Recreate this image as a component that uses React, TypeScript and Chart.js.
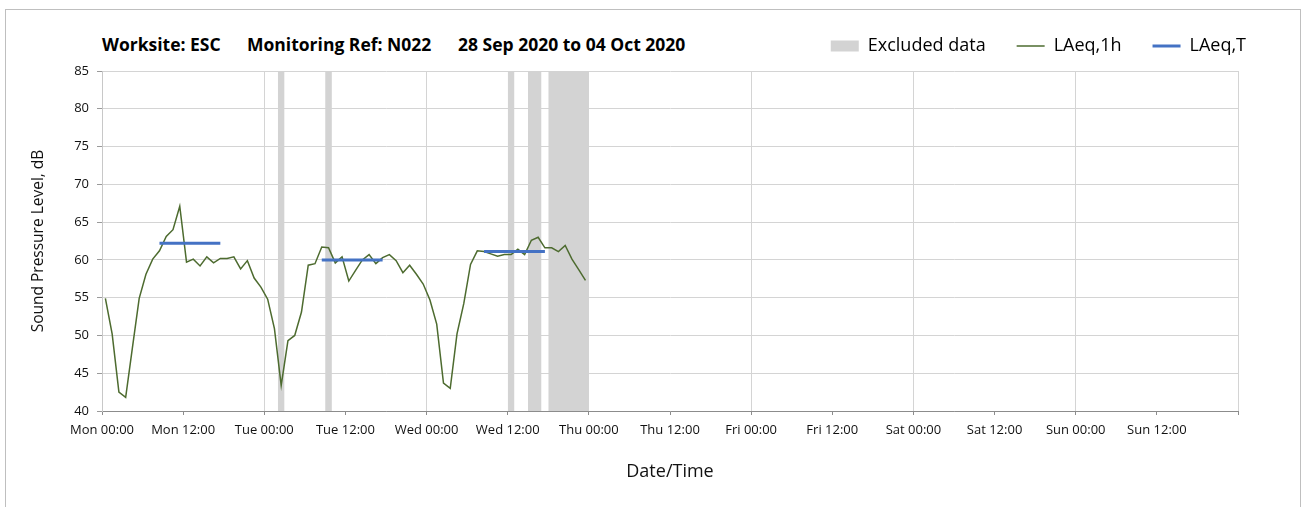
import React, { useEffect, useRef } from 'react';
import { Chart, registerables } from 'chart.js';

Chart.register(...registerables);

const FONT = '"Open Sans", "Noto Sans", sans-serif';

// x axis: hours since Monday 00:00
const tickHours = [0, 12, 24, 36, 48, 60, 72, 84, 96, 108, 120, 132, 144, 156];
const tickLabels = [
  'Mon 00:00', 'Mon 12:00', 'Tue 00:00', 'Tue 12:00', 'Wed 00:00', 'Wed 12:00', 'Thu 00:00',
  'Thu 12:00', 'Fri 00:00', 'Fri 12:00', 'Sat 00:00', 'Sat 12:00', 'Sun 00:00', 'Sun 12:00',
];

// hourly LAeq,1h (plotted at the middle of each hour)
const hourMarks = [
  0.5, 1.5, 2.5, 3.5, 4.5, 5.5, 6.5, 7.5, 8.5, 9.5, 10.5, 11.5,
  12.5, 13.5, 14.5, 15.5, 16.5, 17.5, 18.5, 19.5, 20.5, 21.5, 22.5, 23.5,
  24.5, 25.5, 26.5, 27.5, 28.5, 29.5, 30.5, 31.5, 32.5, 33.5, 34.5, 35.5,
  36.5, 37.5, 38.5, 39.5, 40.5, 41.5, 42.5, 43.5, 44.5, 45.5, 46.5, 47.5,
  48.5, 49.5, 50.5, 51.5, 52.5, 53.5, 54.5, 55.5, 56.5, 57.5, 58.5, 59.5,
  60.5, 61.5, 62.5, 63.5, 64.5, 65.5, 66.5, 67.5, 68.5, 69.5, 70.5, 71.5,
];
const hourlyLevels = [
  54.9, 50.2, 42.5, 41.8, 48.4, 54.9, 58.1, 60.1, 61.2, 63.1, 64.0, 67.1,
  59.7, 60.1, 59.2, 60.4, 59.6, 60.2, 60.2, 60.4, 58.8, 59.9, 57.6, 56.4,
  54.8, 50.9, 43.4, 49.3, 50.0, 53.1, 59.3, 59.5, 61.7, 61.6, 59.6, 60.4,
  57.2, 58.6, 60.0, 60.7, 59.5, 60.3, 60.7, 59.9, 58.3, 59.3, 58.1, 56.8,
  54.7, 51.5, 43.7, 43.0, 50.2, 54.2, 59.4, 61.2, 61.1, 60.8, 60.5, 60.7,
  60.7, 61.4, 60.7, 62.6, 63.0, 61.6, 61.6, 61.1, 61.9, 60.1, 58.7, 57.3,
];

// LAeq,T periods
const periodStart = [8.5, 32.5, 56.5];
const periodEnd = [17.5, 41.5, 65.5];
const periodLevel = [62.2, 60.0, 61.1];

// excluded data windows
const excludedStart = [26, 33, 60, 63, 66];
const excludedEnd = [27, 34, 61, 65, 72];

const Y_MIN = 40;
const Y_MAX = 85;

const legendShift = {
  id: 'legendShift',
  afterLayout(chart: any) {
    const l = chart.legend;
    if (l) {
      l.top -= 6;
      l.bottom -= 6;
    }
  },
};

export default function App() {
  const canvasRef = useRef<HTMLCanvasElement | null>(null);

  useEffect(() => {
    document.body.style.margin = '0';
    const canvas = canvasRef.current;
    if (!canvas) return;

    const excludedData: any[] = [];
    excludedStart.forEach((s, i) => {
      excludedData.push({ x: s, y: Y_MAX });
      excludedData.push({ x: excludedEnd[i], y: Y_MAX });
      excludedData.push({ x: excludedEnd[i], y: null });
    });
    const levelData = hourMarks.map((h, i) => ({ x: h, y: hourlyLevels[i] }));
    const periodData: any[] = [];
    periodStart.forEach((s, i) => {
      periodData.push({ x: s, y: periodLevel[i] });
      periodData.push({ x: periodEnd[i], y: periodLevel[i] });
      periodData.push({ x: periodEnd[i], y: null });
    });

    const GREEN = '#4D6B2F';
    const BLUE = '#4472C4';
    const GREY = '#d3d3d3';

    const legendStyles = [
      { fillStyle: GREY, strokeStyle: GREY, lineWidth: 0, pointStyle: 'rect' },
      { fillStyle: GREEN, strokeStyle: GREEN, lineWidth: 1.5, pointStyle: 'line' },
      { fillStyle: BLUE, strokeStyle: BLUE, lineWidth: 3, pointStyle: 'line' },
    ];

    const chart = new Chart(canvas, {
      type: 'line',
      data: {
        datasets: [
          {
            label: 'Excluded data',
            data: excludedData,
            borderColor: 'rgba(0,0,0,0)',
            borderWidth: 0,
            backgroundColor: GREY,
            fill: 'start',
            pointRadius: 0,
            pointHoverRadius: 0,
            spanGaps: false,
            order: 3,
          },
          {
            label: 'LAeq,1h',
            data: levelData,
            borderColor: GREEN,
            borderWidth: 1.5,
            pointRadius: 0,
            pointHoverRadius: 0,
            tension: 0,
            fill: false,
            order: 2,
          },
          {
            label: 'LAeq,T',
            data: periodData,
            borderColor: BLUE,
            borderWidth: 3,
            pointRadius: 0,
            pointHoverRadius: 0,
            spanGaps: false,
            fill: false,
            order: 1,
          },
        ],
      },
      plugins: [legendShift],
      options: {
        animation: false,
        responsive: false,
        maintainAspectRatio: false,
        layout: { padding: { top: 0, left: 0, right: 27, bottom: 0 } },
        plugins: {
          tooltip: { enabled: false },
          title: { display: false },
          legend: {
            display: true,
            position: 'top',
            align: 'end',
            labels: {
              usePointStyle: true,
              pointStyleWidth: 28,
              boxHeight: 11,
              padding: 31,
              color: '#000',
              font: { family: FONT, size: 18 },
              generateLabels: (c: any) =>
                c.data.datasets.map((ds: any, i: number) => ({
                  text: ds.label,
                  datasetIndex: i,
                  hidden: false,
                  fontColor: '#000',
                  ...legendStyles[i],
                })),
            },
          },
        },
        scales: {
          x: {
            type: 'linear',
            min: 0,
            max: 168,
            afterFit: (scale: any) => {
              scale.height = 96;
              scale.paddingRight = 66;
            },
            ticks: {
              stepSize: 12,
              autoSkip: false,
              maxRotation: 0,
              padding: 7,
              color: '#111',
              font: { family: FONT, size: 13 },
              callback: (v: any) => {
                const idx = tickHours.indexOf(Number(v));
                return idx >= 0 ? tickLabels[idx] : '';
              },
            },
            grid: {
              color: (ctx: any) =>
                ctx.tick && ctx.tick.value % 24 === 0 ? '#d4d4d4' : 'rgba(0,0,0,0)',
              lineWidth: 1,
              tickColor: '#8c8c8c',
              tickLength: 4,
            },
            border: { color: '#8c8c8c', width: 1 },
            title: {
              display: true,
              text: 'Date/Time',
              color: '#111',
              font: { family: FONT, size: 18 },
              padding: { top: 4, bottom: 24 },
            },
          },
          y: {
            type: 'linear',
            min: Y_MIN,
            max: Y_MAX,
            afterFit: (scale: any) => {
              scale.width = 102;
              scale.paddingTop = 71;
            },
            ticks: {
              stepSize: 5,
              padding: 8,
              color: '#111',
              font: { family: FONT, size: 13 },
            },
            grid: {
              color: '#d4d4d4',
              lineWidth: 1,
              tickColor: '#9a9a9a',
              tickLength: 5,
            },
            border: { color: '#c8c8c8', width: 1 },
            title: {
              display: true,
              text: 'Sound Pressure Level, dB',
              color: '#111',
              font: { family: FONT, size: 15.5 },
              padding: { top: 29, bottom: 4 },
            },
          },
        },
      },
    });

    return () => chart.destroy();
  }, []);

  const titleStyle: React.CSSProperties = {
    position: 'absolute',
    top: 33,
    fontFamily: FONT,
    fontWeight: 700,
    fontSize: 17.5,
    lineHeight: '22px',
    color: '#000',
    whiteSpace: 'pre',
  };

  return (
    <div style={{ position: 'relative', width: 1304, height: 507, overflow: 'hidden', background: '#fff' }}>
      <div
        style={{
          position: 'absolute',
          left: 5,
          top: 9,
          width: 1296,
          height: 600,
          boxSizing: 'border-box',
          border: '1px solid #bfbfbf',
        }}
      />
      <span style={{ ...titleStyle, left: 102 }}>Worksite: ESC</span>
      <span style={{ ...titleStyle, left: 247 }}>Monitoring Ref: N022</span>
      <span style={{ ...titleStyle, left: 458 }}>28 Sep 2020 to 04 Oct 2020</span>
      <canvas ref={canvasRef} width={1304} height={507} style={{ position: 'absolute', left: 0, top: 0 }} />
    </div>
  );
}
